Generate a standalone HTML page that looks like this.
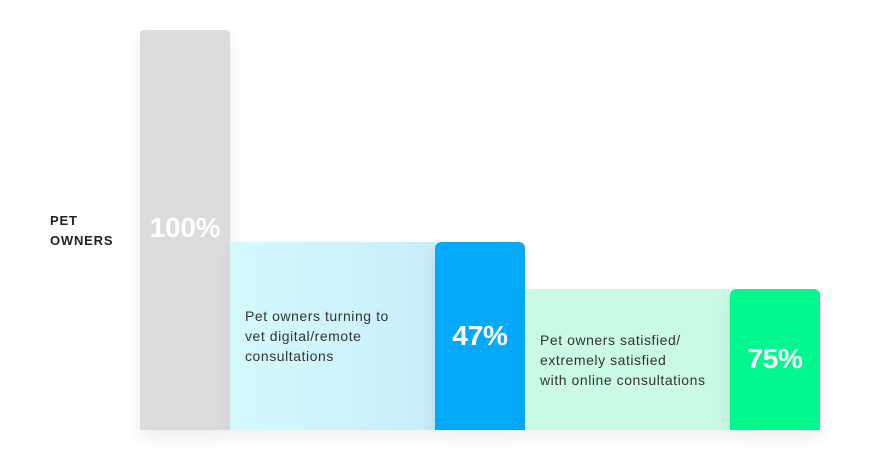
<!DOCTYPE html>
<html><head><style>
body{margin:0;width:880px;height:460px;background:#fff;position:relative;overflow:hidden;font-family:"Liberation Sans",sans-serif}
.a{position:absolute}
.pct{color:#fff;font-weight:bold;font-size:28px;text-align:center;letter-spacing:-0.3px}
.t{color:#333;font-size:14px;line-height:20px;letter-spacing:0.55px;white-space:nowrap}
</style></head><body>
<div class="a" style="left:50px;top:211px;font-weight:bold;font-size:13px;line-height:20px;color:#222;letter-spacing:0.8px">PET<br>OWNERS</div>
<div class="a" style="left:140px;top:30px;width:90px;height:400px;background:#dcdcdc;border-radius:4px 4px 0 0;box-shadow:0 8px 16px rgba(0,0,0,0.08)"></div>
<div class="a pct" style="left:140px;top:212px;width:90px">100%</div>
<div class="a" style="left:230px;top:242px;width:205px;height:188px;background:linear-gradient(90deg,#d3f8fc,#cdf3fb 60%,#c9ebf9);box-shadow:0 8px 16px rgba(0,0,0,0.06)"></div>
<div class="a t" style="left:245px;top:306px">Pet owners turning to<br>vet digital/remote<br>consultations</div>
<div class="a" style="left:435px;top:242px;width:90px;height:188px;background:#03aafc;border-radius:6px 6px 0 0;box-shadow:0 8px 16px rgba(0,0,0,0.08)"></div>
<div class="a pct" style="left:435px;top:320px;width:90px">47%</div>
<div class="a" style="left:525px;top:289px;width:205px;height:141px;background:#c9fae6;box-shadow:0 8px 16px rgba(0,0,0,0.06)"></div>
<div class="a t" style="left:540px;top:330px">Pet owners satisfied/<br>extremely satisfied<br>with online consultations</div>
<div class="a" style="left:730px;top:289px;width:90px;height:141px;background:#03f78f;border-radius:6px 6px 0 0;box-shadow:0 8px 16px rgba(0,0,0,0.08)"></div>
<div class="a pct" style="left:730px;top:343px;width:90px">75%</div>
</body></html>
